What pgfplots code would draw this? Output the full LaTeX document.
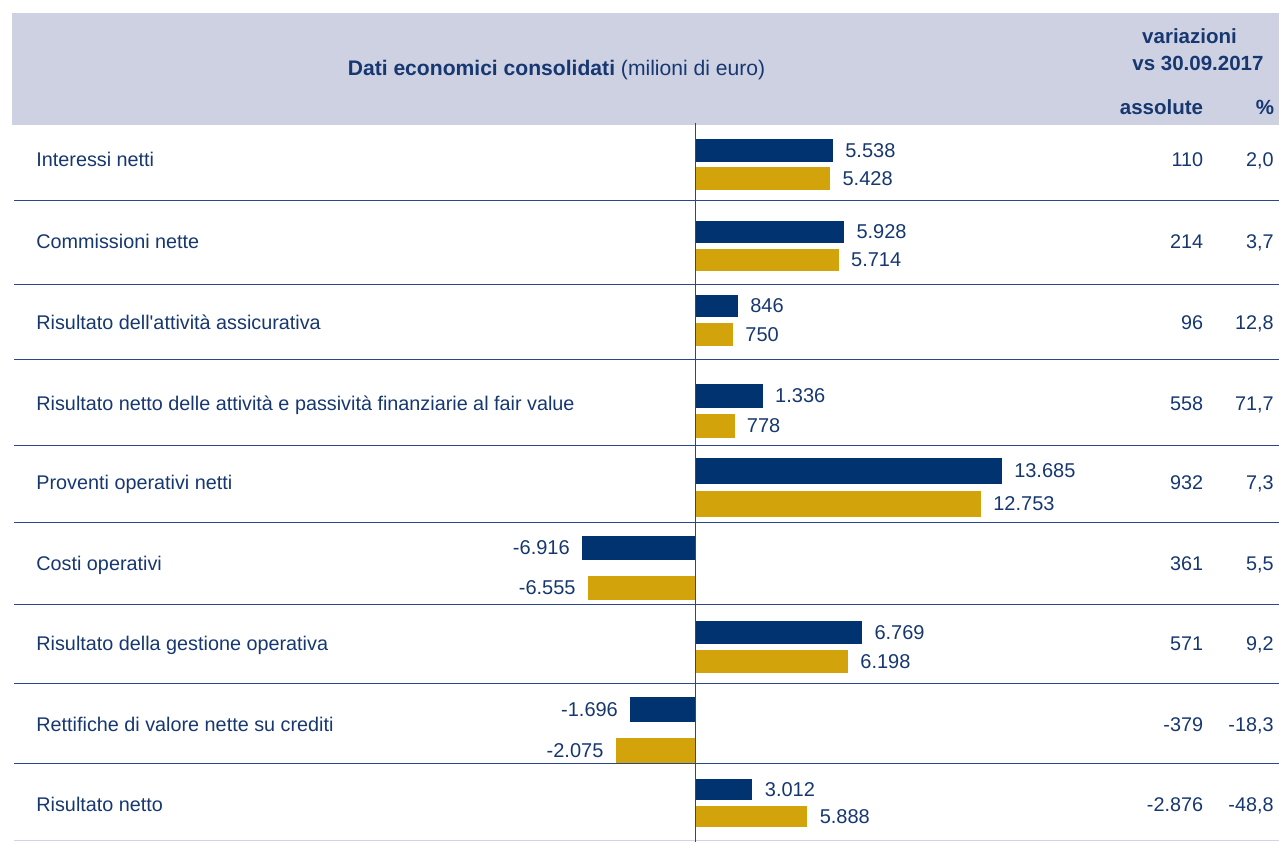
\documentclass[border=0pt]{standalone}
\usepackage{fontspec}
\setmainfont{Liberation Sans}
\usepackage{pgfplots}
\pgfplotsset{compat=1.18}

\definecolor{navybar}{RGB}{0,51,112}
\definecolor{goldbar}{RGB}{210,163,10}
\definecolor{hdr}{RGB}{206,209,226}
\definecolor{txt}{RGB}{22,55,112}
\definecolor{rule}{RGB}{40,72,138}
\definecolor{faint}{RGB}{208,213,226}

% one hidden axis per row, all stacked on the same box; each row has its own x scale
\pgfplotsset{rowax/.style={
  at={(A)}, anchor=north west, scale only axis, width=270pt, height=358.5pt,
  hide axis, clip=false, xbar, bar shift=0pt,
  ymin=125, ymax=842, y dir=reverse,
  point meta=x,
  nodes near coords={\pgfmathprintnumber{\pgfplotspointmeta}},
  nodes near coords align={horizontal},
  every node near coord/.append style={font=\fontsize{10}{12}\selectfont, text=txt, inner xsep=6pt},
  /pgf/number format/fixed, /pgf/number format/precision=0,
  /pgf/number format/1000 sep={.}, /pgf/number format/assume math mode=true,
}}

\begin{document}
\begin{tikzpicture}[x=0.5pt, y=-0.5pt,
  t/.style={inner sep=0pt, text=txt, font=\fontsize{9.9}{12}\selectfont},
  h/.style={inner sep=0pt, text=txt, font=\fontsize{10.25}{12}\selectfont\bfseries}]
\useasboundingbox (0,0) rectangle (1279,842);

% header band
\fill[hdr] (12,12.5) rectangle (1279,124.7);
\node[t, anchor=base, font=\fontsize{10.55}{12}\selectfont] at (556.5,75.7)
  {\textbf{Dati economici consolidati} (milioni di euro)};
\node[h, anchor=base] at (1189.5,43.3) {variazioni};
\node[h, anchor=base] at (1198,70.7) {vs 30.09.2017};
\node[h, anchor=base east] at (1203.5,114.3) {assolute};
\node[h, anchor=base east] at (1274.5,114.3) {\%};

\coordinate (A) at (560,125);

\begin{axis}[rowax, xmin=-5420, xmax=16261, bar width=11.25pt]
\addplot[fill=navybar, draw=none] coordinates {(5538,150.3)};
\addplot[fill=goldbar, draw=none] coordinates {(5428,178.5)};
\end{axis}
\begin{axis}[rowax, xmin=-5366, xmax=16099, bar width=10.75pt]
\addplot[fill=navybar, draw=none] coordinates {(5928,232)};
\addplot[fill=goldbar, draw=none] coordinates {(5714,259.8)};
\end{axis}
\begin{axis}[rowax, xmin=-2660, xmax=7979, bar width=11.2pt]
\addplot[fill=navybar, draw=none] coordinates {(846,305.8)};
\addplot[fill=goldbar, draw=none] coordinates {(750,334.3)};
\end{axis}
\begin{axis}[rowax, xmin=-2660, xmax=7979, bar width=12.1pt]
\addplot[fill=navybar, draw=none] coordinates {(1336,395.8)};
\addplot[fill=goldbar, draw=none] coordinates {(778,426)};
\end{axis}
\begin{axis}[rowax, xmin=-6021, xmax=18063, bar width=12.75pt]
\addplot[fill=navybar, draw=none] coordinates {(13685,471)};
\addplot[fill=goldbar, draw=none] coordinates {(12753,503.8)};
\end{axis}
\begin{axis}[rowax, xmin=-8269, xmax=24806, bar width=12pt]
\addplot[fill=navybar, draw=none] coordinates {(-6916,547.8)};
\addplot[fill=goldbar, draw=none] coordinates {(-6555,588)};
\end{axis}
\begin{axis}[rowax, xmin=-5468, xmax=16403, bar width=11.5pt]
\addplot[fill=navybar, draw=none] coordinates {(6769,632.3)};
\addplot[fill=goldbar, draw=none] coordinates {(6198,661.5)};
\end{axis}
\begin{axis}[rowax, xmin=-3537, xmax=10611, bar width=12.2pt]
\addplot[fill=navybar, draw=none] coordinates {(-1696,709.5)};
\addplot[fill=goldbar, draw=none] coordinates {(-2075,750.5)};
\end{axis}
\begin{axis}[rowax, xmin=-7074, xmax=21222, bar width=10.35pt]
\addplot[fill=navybar, draw=none] coordinates {(3012,789.7)};
\addplot[fill=goldbar, draw=none] coordinates {(5888,816.3)};
\end{axis}

% row rules and zero line
\foreach \y in {200.7,284.7,359.7,445.4,522.5,604.3,683.3,763.5}
  \draw[rule, line width=0.6pt] (14,\y) -- (1279,\y);
\draw[faint, line width=0.6pt] (14,840.7) -- (1279,840.7);
\draw[rule, line width=0.65pt] (695.3,123) -- (695.3,842);

% row labels and variations
\foreach \b/\lab/\ab/\pc in {
  166.5/Interessi netti/110/2{,}0,
  248/Commissioni nette/214/3{,}7,
  329/Risultato dell\textquotesingle attività assicurativa/96/12{,}8,
  410/Risultato netto delle attività e passività finanziarie al fair value/558/71{,}7,
  489/Proventi operativi netti/932/7{,}3,
  570/Costi operativi/361/5{,}5,
  650/Risultato della gestione operativa/571/9{,}2,
  731/Rettifiche di valore nette su crediti/-379/-18{,}3,
  811/Risultato netto/-2.876/-48{,}8}{
  \node[t, anchor=base west] at (36,\b) {\lab};
  \node[t, anchor=base east] at (1203.5,\b) {\ab};
  \node[t, anchor=base east] at (1274,\b) {\pc};
}
\end{tikzpicture}
\end{document}
